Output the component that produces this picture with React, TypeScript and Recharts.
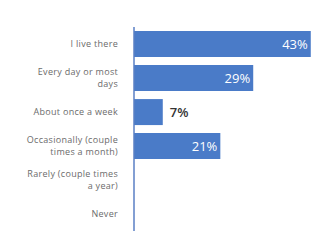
import { Bar, BarChart, LabelList, XAxis, YAxis } from "recharts";

const categories = [
  "I live there",
  "Every day or most days",
  "About once a week",
  "Occasionally (couple times a month)",
  "Rarely (couple times a year)",
  "Never",
];
const shares = [43, 29, 7, 21, 0, 0];
const tickLines: Record<string, string[]> = {
  "I live there": ["I live there"],
  "Every day or most days": ["Every day or most", "days"],
  "About once a week": ["About once a week"],
  "Occasionally (couple times a month)": ["Occasionally (couple", "times a month)"],
  "Rarely (couple times a year)": ["Rarely (couple times", "a year)"],
  Never: ["Never"],
};

const data = categories.map((c, i) => ({ name: c, value: shares[i] }));

const BLUE = "#4a7bc8";

function CategoryTick({ x, y, payload }: any) {
  const lines = tickLines[payload.value] ?? [payload.value];
  const start = -((lines.length - 1) * 12) / 2;
  return (
    <text
      fill="#6b6b6b"
      fontFamily="Open Sans, sans-serif"
      fontSize={9}
      letterSpacing={0.3}
      textAnchor="end"
      x={x - 8}
      y={y}
    >
      {lines.map((l, i) => (
        <tspan dy={i === 0 ? start + 3 : 12} key={l} x={x - 8}>
          {l}
        </tspan>
      ))}
    </text>
  );
}

function ValueLabel({ x, y, width, height, value }: any) {
  if (!value) {
    return null;
  }
  const inside = value >= 15;
  return (
    <text
      dominantBaseline="central"
      fill={inside ? "#ffffff" : "#333333"}
      fontFamily="Open Sans, sans-serif"
      fontSize={13}
      fontWeight={inside ? 400 : 600}
      textAnchor={inside ? "end" : "start"}
      x={inside ? x + width - 3 : x + width + 7}
      y={y + height / 2}
    >
      {`${value}%`}
    </text>
  );
}

export default function App() {
  return (
    <div style={{ position: "absolute", left: 0, top: 0, background: "#fff" }}>
      <BarChart
        barCategoryGap="12%"
        data={data}
        height={252}
        layout="vertical"
        margin={{ top: 27, right: 8, bottom: 21, left: 0 }}
        width={327}
      >
        <XAxis domain={[0, 45]} hide type="number" />
        <YAxis
          axisLine={{ stroke: "#5a7fc4", strokeWidth: 1.5 }}
          dataKey="name"
          interval={0}
          tick={<CategoryTick />}
          tickLine={false}
          type="category"
          width={134}
        />
        <Bar dataKey="value" fill={BLUE} isAnimationActive={false}>
          <LabelList content={<ValueLabel />} dataKey="value" />
        </Bar>
      </BarChart>
    </div>
  );
}
